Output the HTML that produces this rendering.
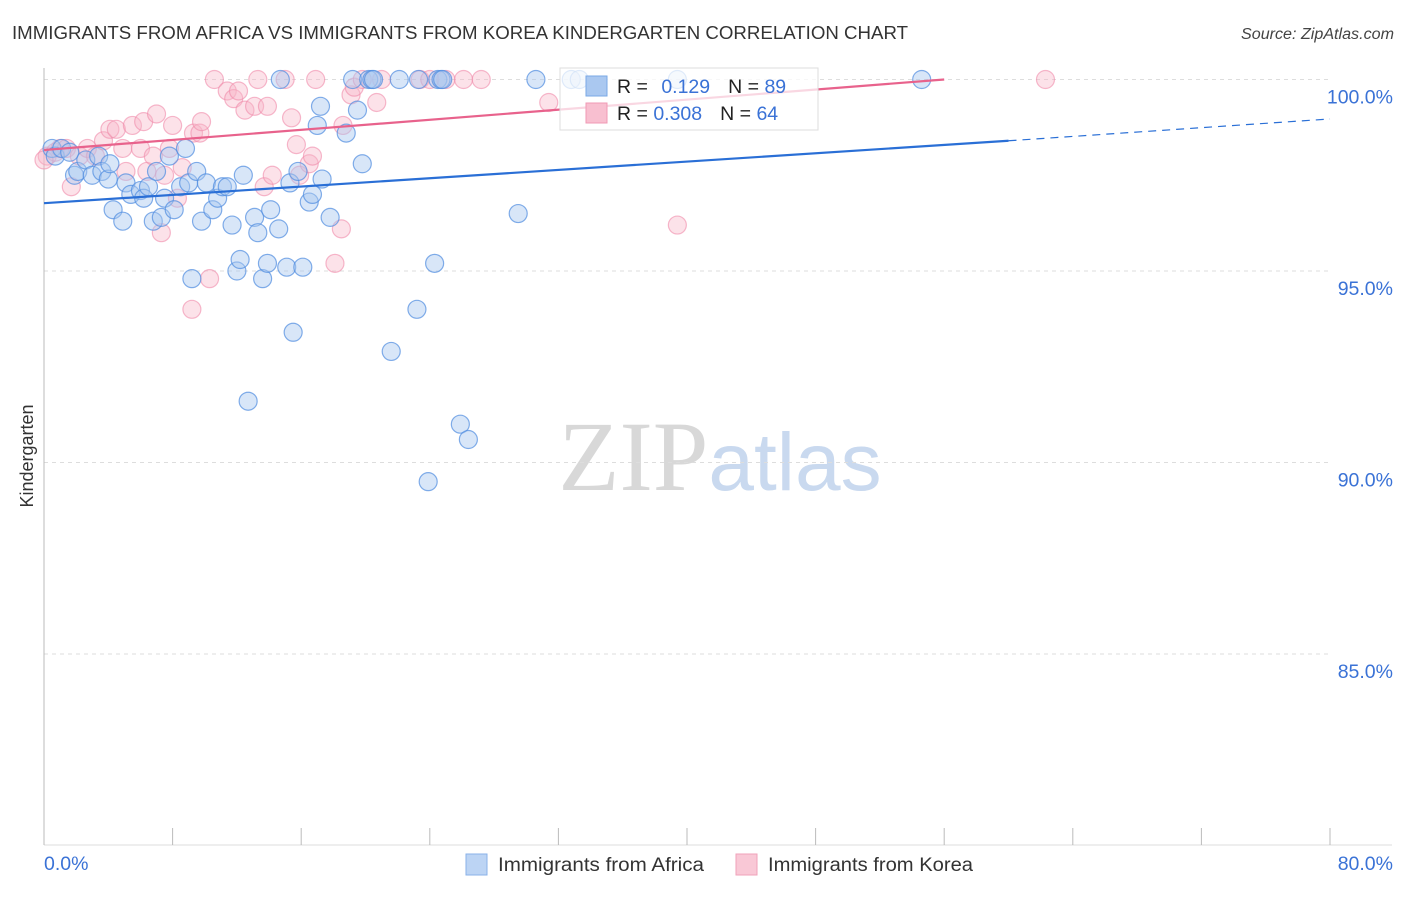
<!DOCTYPE html>
<html><head><meta charset="utf-8"><style>
body{margin:0;background:#fff;font-family:"Liberation Sans",sans-serif;}
svg text{font-family:"Liberation Sans",sans-serif;}
</style></head><body>
<svg id="chart" width="1406" height="892" xmlns="http://www.w3.org/2000/svg">
<text x="12" y="39" font-size="18" fill="#333" textLength="896" lengthAdjust="spacingAndGlyphs">IMMIGRANTS FROM AFRICA VS IMMIGRANTS FROM KOREA KINDERGARTEN CORRELATION CHART</text>
<text x="1394" y="39" font-size="15.5" fill="#444" text-anchor="end" font-style="italic" textLength="153" lengthAdjust="spacingAndGlyphs">Source: ZipAtlas.com</text>
<text x="720" y="490" font-size="100" text-anchor="middle"><tspan font-family="Liberation Serif" fill="#d8d8d8">ZIP</tspan><tspan fill="#c9d9ef" font-size="82">atlas</tspan></text>
<text transform="translate(33,456) rotate(-90)" font-size="18" fill="#333" text-anchor="middle">Kindergarten</text>
<g id="grid"></g>
<g id="pts"></g>
<g id="trend"></g>
<g id="legend-box">
<rect x="560" y="68" width="258" height="62" fill="#fff" fill-opacity="0.75" stroke="#ddd"/>
<rect x="586" y="76" width="21" height="20" fill="#aac8f0" stroke="#7aa8e6"/>
<rect x="586" y="103" width="21" height="20" fill="#f8bfd0" stroke="#f09ab4"/>
<text x="617" y="93" font-size="19.5" fill="#222">R = <tspan fill="#3a72d6" dx="8">0.129</tspan><tspan dx="18" fill="#222">N = </tspan><tspan fill="#3a72d6">89</tspan></text>
<text x="617" y="120" font-size="19.5" fill="#222">R = <tspan fill="#3a72d6">0.308</tspan><tspan dx="18" fill="#222">N = </tspan><tspan fill="#3a72d6">64</tspan></text>
</g>
<g>
<rect x="466" y="854" width="21" height="21" fill="#bcd4f4" stroke="#8ab2e8"/>
<text x="498" y="871" font-size="19" fill="#333" textLength="206" lengthAdjust="spacingAndGlyphs">Immigrants from Africa</text>
<rect x="736" y="854" width="21" height="21" fill="#f9c8d6" stroke="#f0a2ba"/>
<text x="768" y="871" font-size="19" fill="#333" textLength="205" lengthAdjust="spacingAndGlyphs">Immigrants from Korea</text>
</g>
</svg>
<script>
const yTicks=[100,95,90,85];
const xTickVals=[0,8,16,24,32,40,48,56,64,72,80];
const africaX=[0.5,0.7,1.1,1.6,1.9,2.1,2.6,3.0,3.4,3.6,4.0,4.1,4.3,4.9,5.1,5.4,6.0,6.2,6.5,6.8,7.0,7.3,7.5,7.8,8.1,8.5,8.8,9.0,9.2,9.5,9.8,10.1,10.5,10.8,11.1,11.4,11.7,12.0,12.2,12.4,12.7,13.1,13.3,13.6,13.9,14.1,14.6,14.7,15.1,15.3,15.5,15.8,16.1,16.5,16.7,17.0,17.2,17.3,17.8,18.8,19.2,19.5,19.8,20.2,20.4,20.5,21.6,22.1,23.2,23.3,23.9,24.3,24.5,24.7,24.8,25.9,26.4,29.5,30.6,32.8,33.3,39.4,54.6];
const africaY=[98.2,98.0,98.2,98.1,97.5,97.6,97.9,97.5,98.0,97.6,97.4,97.8,96.6,96.3,97.3,97.0,97.1,96.9,97.2,96.3,97.6,96.4,96.9,98.0,96.6,97.2,98.2,97.3,94.8,97.6,96.3,97.3,96.6,96.9,97.2,97.2,96.2,95.0,95.3,97.5,91.6,96.4,96.0,94.8,95.2,96.6,96.1,100,95.1,97.3,93.4,97.6,95.1,96.8,97.0,98.8,99.3,97.4,96.4,98.6,100,99.2,97.8,100,100,100,92.9,100,94.0,100,89.5,95.2,100,100,100,91.0,90.6,96.5,100,100,100,100,100];
const koreaX=[0.2,0.7,1.0,1.4,1.7,2.2,2.7,3.2,3.7,4.1,4.5,4.9,5.1,5.5,6.0,6.2,6.4,6.8,7.0,7.3,7.5,7.8,8.0,8.3,8.6,9.2,9.3,9.7,9.8,10.3,10.6,11.4,11.8,12.1,12.5,13.1,13.3,13.7,13.9,14.2,15.0,15.4,15.7,15.9,16.5,16.7,16.9,18.5,18.1,18.6,19.1,19.3,19.8,20.7,21.0,23.4,24.0,25.0,26.1,27.2,31.4,39.4,62.3,0.0];
const koreaY=[98.0,98.1,98.2,98.2,97.2,98.0,98.2,98.0,98.4,98.7,98.7,98.2,97.6,98.8,98.2,98.9,97.6,98.0,99.1,96.0,97.5,98.2,98.8,96.9,97.7,94.0,98.6,98.6,98.9,94.8,100,99.7,99.5,99.7,99.2,99.3,100,97.2,99.3,97.5,100,99.0,98.3,97.5,97.8,98.0,100,96.1,95.2,98.8,99.6,99.8,100,99.4,100,100,100,100,100,100,99.4,96.2,100,97.9];
const africaTrendX=[0,60,80];
const africaTrendY=[96.77,98.40,98.97];
const koreaTrendX=[0,56];
const koreaTrendY=[98.16,100.0];
const NS="http://www.w3.org/2000/svg";
const X0=44,X1=1330,YB=845;
function sx(v){return X0+(v/80)*(X1-X0);}
function sy(v){return 79.5+(100-v)*38.3;}
function mk(tag,attrs,parent){const e=document.createElementNS(NS,tag);for(const k in attrs)e.setAttribute(k,attrs[k]);parent.appendChild(e);return e;}
const grid=document.getElementById('grid');
yTicks.forEach(t=>{
 const l=mk('line',{x1:X0,x2:X1,y1:sy(t),y2:sy(t),stroke:'#ddd','stroke-dasharray':'4,4'},grid);
 
 
 const tx=mk('text',{x:1393,y:sy(t)+24,'font-size':19.5,fill:'#3a72d6','text-anchor':'end'},grid);
 tx.textContent=t.toFixed(1)+'%';
 
 
});
const ax=mk('line',{x1:X0,x2:X0,y1:68,y2:YB,stroke:'#bbb'},grid);


const bx=mk('line',{x1:X0,x2:1392,y1:YB,y2:YB,stroke:'#ddd'},grid);


xTickVals.forEach(v=>{
 const t=mk('line',{x1:sx(v),x2:sx(v),y1:828,y2:YB,stroke:'#bbb'},grid);
 
 
});
[[0,'start'],[80,'end']].forEach(([v,a])=>{
 const t=mk('text',{x:v===0?sx(v):1393,y:870,'font-size':19.5,fill:'#3a72d6','text-anchor':a},grid);
 t.textContent=v.toFixed(1)+'%';
 
 
});
const pts=document.getElementById('pts');
koreaX.forEach((x,i)=>{
 const c=mk('circle',{cx:sx(x),cy:sy(koreaY[i]),r:9,fill:'#f7b6c9','fill-opacity':0.4,stroke:'#f08aaa','stroke-opacity':0.6,'stroke-width':1.2},pts);
 
 
});
africaX.forEach((x,i)=>{
 const c=mk('circle',{cx:sx(x),cy:sy(africaY[i]),r:9,fill:'#a9c7f0','fill-opacity':0.45,stroke:'#4f8be0','stroke-opacity':0.7,'stroke-width':1.2},pts);
 
 
});
const tr=document.getElementById('trend');
const b1=mk('line',{x1:sx(africaTrendX[0]),y1:sy(africaTrendY[0]),x2:sx(africaTrendX[1]),y2:sy(africaTrendY[1]),stroke:'#2a6fd6','stroke-width':2.2},tr);


const b2=mk('line',{x1:sx(africaTrendX[1]),y1:sy(africaTrendY[1]),x2:sx(africaTrendX[2]),y2:sy(africaTrendY[2]),stroke:'#2a6fd6','stroke-width':1.2,'stroke-dasharray':'8,6'},tr);


const p1=mk('line',{x1:sx(koreaTrendX[0]),y1:sy(koreaTrendY[0]),x2:sx(koreaTrendX[1]),y2:sy(koreaTrendY[1]),stroke:'#e8628c','stroke-width':2.2},tr);


</script>
</body></html>
